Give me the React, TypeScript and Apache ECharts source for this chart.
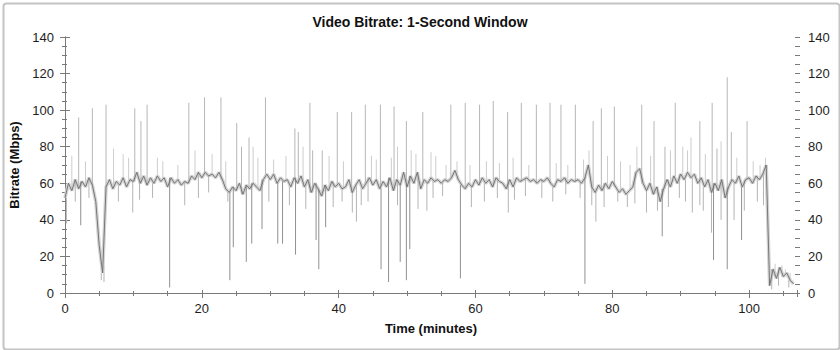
import React, { useEffect, useRef } from "react";
import * as echarts from "echarts";

const FONT = "'Liberation Sans', Arial, sans-serif";

// Bitrate (Mbps) sampled every 0.5 minute, starting at minute 0
const START_MIN = 0;
const STEP_MIN = 0.5;
const bitrate = [
  52, 60, 56, 62, 57, 61, 58, 63, 59, 50,
  26, 11, 58, 62, 57, 61, 59, 63, 58, 62,
  61, 66, 60, 64, 59, 63, 60, 64, 61, 63,
  58, 63, 60, 62, 59, 61, 60, 64, 62, 66,
  63, 66, 64, 65, 63, 66, 62, 57, 55, 58,
  56, 60, 54, 59, 57, 60, 58, 56, 62, 65,
  62, 65, 60, 63, 61, 62, 58, 63, 60, 64,
  58, 62, 55, 60, 57, 53, 59, 56, 61, 58,
  60, 57, 58, 62, 55, 59, 62, 57, 60, 63,
  59, 62, 57, 61, 58, 63, 56, 62, 59, 66,
  58, 64, 60, 66, 57, 62, 60, 63, 61, 62,
  60, 62, 61, 63, 67, 62, 59, 57, 60, 58,
  62, 59, 63, 60, 62, 58, 63, 61, 60, 57,
  62, 58, 63, 61, 62, 63, 61, 62, 60, 62,
  61, 63, 60, 58, 62, 61, 63, 60, 62, 61,
  62, 60, 63, 70, 58, 55, 59, 56, 60, 57,
  61, 58, 55, 57, 54, 56, 58, 66, 68, 60,
  56, 60, 54, 58, 50, 57, 62, 58, 64, 60,
  65, 62, 66, 63, 65, 60, 63, 58, 62, 55,
  60, 56, 62, 52, 58, 62, 60, 64, 58, 62,
  63, 60, 64, 62, 65, 70, 4, 13, 8, 14,
  9, 11, 7, 5,
];

// Short upward peaks (minute, peak Mbps)
const peakTimes = [
  2.0, 4.0, 6.0, 7.1, 10.2, 11.1, 12.0, 18.1, 20.4, 22.8,
  25.1, 25.8, 26.9, 27.5, 29.3, 33.6, 34.1, 35.8, 37.6, 39.8,
  41.9, 43.9, 46.1, 48.1, 49.9, 52.3, 56.4, 58.5, 60.6, 62.6,
  64.7, 66.7, 68.9, 70.9, 72.5, 74.6, 77.2, 78.4, 80.3, 84.3,
  86.1, 87.7, 89.2, 91.5, 92.8, 94.6, 95.9, 96.8, 97.4, 99.7,
  1.0, 3.0, 8.5, 9.3, 13.5, 14.3, 16.5, 19.0, 21.5, 23.5,
  28.2, 30.5, 32.3, 34.8, 36.2, 38.6, 40.7, 44.8, 45.5, 47.7,
  48.6, 50.6, 51.3, 53.5, 54.2, 55.7, 57.3, 59.2, 61.6, 63.5,
  65.5, 67.8, 71.8, 73.5, 75.8, 76.6, 79.3, 81.2, 82.6, 83.6,
  85.6, 88.5, 90.3, 91.0, 93.6, 95.3, 98.2, 100.6, 101.6, 102.4,
  5.2, 5.4, 5.7, 103.8, 104.8, 105.3, 106.0,
];
const peakValues = [
  96, 101, 103, 79, 101, 94, 103, 104, 107, 107,
  93, 80, 85, 80, 107, 90, 88, 104, 78, 99,
  99, 103, 103, 102, 94, 99, 103, 104, 103, 105,
  99, 104, 103, 104, 103, 103, 94, 101, 102, 103,
  94, 80, 104, 85, 94, 104, 83, 118, 88, 94,
  75, 72, 76, 74, 74, 72, 70, 78, 76, 72,
  74, 73, 75, 80, 78, 75, 72, 75, 73, 74,
  80, 78, 76, 77, 75, 70, 72, 70, 72, 71,
  74, 70, 71, 70, 73, 78, 75, 72, 70, 80,
  75, 78, 80, 78, 76, 79, 74, 72, 70, 74,
  16, 14, 15, 16, 15, 13, 11,
];

// Short downward drops (minute, lowest Mbps)
const dropTimes = [
  0.2, 2.3, 5.3, 5.7, 9.9, 10.9, 15.3, 17.5, 24.1, 24.6,
  26.5, 27.3, 28.8, 31.1, 31.8, 33.7, 36.7, 37.1, 38.1, 42.0,
  42.6, 46.2, 47.3, 49.0, 49.9, 50.4, 52.9, 57.8, 64.8, 65.7,
  71.3, 76.0, 77.0, 77.6, 85.0, 87.3, 92.8, 94.5, 94.8, 95.9,
  96.8, 98.9,
  1.5, 3.5, 7.8, 12.8, 19.5, 21.0, 23.8, 29.8, 32.8, 35.2,
  39.2, 40.5, 43.3, 44.3, 48.6, 51.6, 53.8, 55.2, 59.4, 61.3,
  63.2, 67.3, 69.7, 73.2, 75.3, 78.8, 80.8, 82.2, 83.3, 86.6,
  88.2, 89.8, 90.7, 91.7, 93.3, 97.8, 99.3, 101.2, 102.1,
  103.3, 104.3, 105.8,
];
const dropValues = [
  38, 37, 7, 6, 44, 51, 3, 48, 7, 25,
  17, 27, 35, 27, 27, 21, 29, 13, 36, 44,
  39, 13, 6, 17, 7, 24, 45, 8, 44, 51,
  50, 5, 48, 39, 44, 31, 48, 33, 18, 40,
  13, 29,
  50, 52, 50, 52, 52, 55, 50, 50, 48, 46,
  47, 50, 48, 50, 48, 46, 52, 53, 47, 50,
  52, 53, 52, 54, 52, 47, 50, 47, 49, 45,
  47, 52, 50, 44, 45, 40, 45, 50, 48,
  2, 4, 3,
];

const yTicks = [0, 20, 40, 60, 80, 100, 120, 140];
const xTicks = [0, 20, 40, 60, 80, 100];
const X_MAX = 107;

const AXIS_COLOR = "#7a7a7a";

function levelAt(t: number): number {
  const i = Math.min(bitrate.length - 1, Math.max(0, Math.round((t - START_MIN) / STEP_MIN)));
  return bitrate[i];
}

export default function App() {
  const ref = useRef<HTMLDivElement>(null);

  useEffect(() => {
    if (!ref.current) return;
    const chart = echarts.init(ref.current, undefined, { renderer: "svg" });

    const lineData = bitrate.map((v, i) => [START_MIN + i * STEP_MIN, v]);
    const peakData = peakTimes.map((t, i) => [t, levelAt(t), peakValues[i]]);
    const dropData = dropTimes.map((t, i) => [t, dropValues[i], levelAt(t)]);

    const grid = { left: 65, right: 43, top: 37, bottom: 57 };
    const yMin = yTicks[0];
    const yMax = yTicks[yTicks.length - 1];
    const yStep = yTicks[1] - yTicks[0];
    const xStep = xTicks[1] - xTicks[0];

    const baseX = (gi: number, pos: string, interval: number, inside: boolean, len: number, extra: any = {}) => ({
      gridIndex: gi,
      type: "value",
      position: pos,
      min: 0,
      max: X_MAX,
      interval,
      axisLine: { show: false },
      axisTick: { show: true, inside, length: len, lineStyle: { color: AXIS_COLOR, width: 1 } },
      axisLabel: { show: false },
      splitLine: { show: false },
      ...extra,
    });
    const baseY = (gi: number, pos: string, interval: number, inside: boolean, len: number, extra: any = {}) => ({
      gridIndex: gi,
      type: "value",
      position: pos,
      min: yMin,
      max: yMax,
      interval,
      axisLine: { show: false },
      axisTick: { show: true, inside, length: len, lineStyle: { color: AXIS_COLOR, width: 1 } },
      axisLabel: { show: false },
      splitLine: { show: false },
      ...extra,
    });

    const labelStyle = { color: "#1e1e1e", fontSize: 13, fontFamily: FONT };
    const nameStyle = { color: "#111", fontSize: 13, fontWeight: "bold", fontFamily: FONT };
    const line = { show: true, lineStyle: { color: AXIS_COLOR, width: 1 } };

    const xAxis: any[] = [
      baseX(0, "bottom", xStep, false, 5, {
        axisLine: line,
        axisLabel: { show: true, margin: 9, showMaxLabel: false, ...labelStyle },
        name: "Time (minutes)",
        nameLocation: "middle",
        nameGap: 29,
        nameTextStyle: nameStyle,
      }),
      baseX(0, "top", xStep, true, 4, { axisLine: line }),
      baseX(1, "bottom", xStep, true, 3),
      baseX(1, "top", 5, true, 2),
      baseX(2, "bottom", 5, false, 3),
      baseX(3, "bottom", 5, true, 2),
    ];
    const yAxis: any[] = [
      baseY(0, "left", yStep, false, 5, {
        axisLine: line,
        axisLabel: { show: true, margin: 11, ...labelStyle },
        name: "Bitrate (Mbps)",
        nameLocation: "middle",
        nameGap: 38,
        nameTextStyle: nameStyle,
      }),
      baseY(0, "right", yStep, false, 5, {
        axisLine: line,
        axisLabel: { show: true, margin: 11, ...labelStyle },
      }),
      baseY(1, "left", yStep, true, 3),
      baseY(1, "right", yStep, true, 3),
      baseY(2, "left", 5, false, 3),
      baseY(2, "right", 5, false, 3),
      baseY(3, "left", 5, true, 2),
      baseY(3, "right", 5, true, 2),
    ];

    // colour by how far a segment leaves the band: long ones darker, short fuzz lighter
    const segRender = (longColor: string, shortColor: string) => (params: any, api: any) => {
      const t = api.value(0);
      const a = api.value(1);
      const b = api.value(2);
      const p1 = api.coord([t, a]);
      const p2 = api.coord([t, b]);
      return {
        type: "line",
        shape: { x1: p1[0], y1: p1[1], x2: p2[0], y2: p2[1] },
        style: { stroke: Math.abs(b - a) > 22 ? longColor : shortColor, lineWidth: 1 },
      };
    };

    chart.setOption({
      animation: false,
      backgroundColor: "#ffffff",
      title: {
        text: "Video Bitrate: 1-Second Window",
        left: "center",
        top: 10,
        textStyle: { fontSize: 14, fontWeight: "bold", color: "#111", fontFamily: FONT },
      },
      graphic: [
        {
          type: "rect",
          left: 1,
          top: 1,
          shape: { width: 836, height: 346, r: 3 },
          style: { fill: "none", stroke: "#c4c4c4", lineWidth: 2 },
          silent: true,
        },
      ],
      grid: [grid, grid, grid, grid],
      xAxis,
      yAxis,
      series: [
        {
          type: "line",
          xAxisIndex: 0,
          yAxisIndex: 0,
          data: lineData,
          showSymbol: false,
          symbol: "none",
          lineStyle: { color: "#d4d4d4", width: 3.5 },
          z: 1,
          silent: true,
        },
        {
          type: "custom",
          xAxisIndex: 0,
          yAxisIndex: 0,
          renderItem: segRender("#b6b6b6", "#cdcdcd"),
          encode: { x: 0, y: [1, 2] },
          data: peakData,
          z: 2,
          clip: true,
        },
        {
          type: "custom",
          xAxisIndex: 0,
          yAxisIndex: 0,
          renderItem: segRender("#909090", "#b4b4b4"),
          encode: { x: 0, y: [1, 2] },
          data: dropData,
          z: 2,
          clip: true,
        },
        {
          type: "line",
          xAxisIndex: 0,
          yAxisIndex: 0,
          data: lineData,
          showSymbol: false,
          symbol: "none",
          lineStyle: { color: "#6c6c6c", width: 0.9 },
          z: 3,
        },
      ],
    });

    return () => chart.dispose();
  }, []);

  return (
    <div
      ref={ref}
      style={{ position: "fixed", left: 0, top: 0, width: 840, height: 350, background: "#fff" }}
    />
  );
}
